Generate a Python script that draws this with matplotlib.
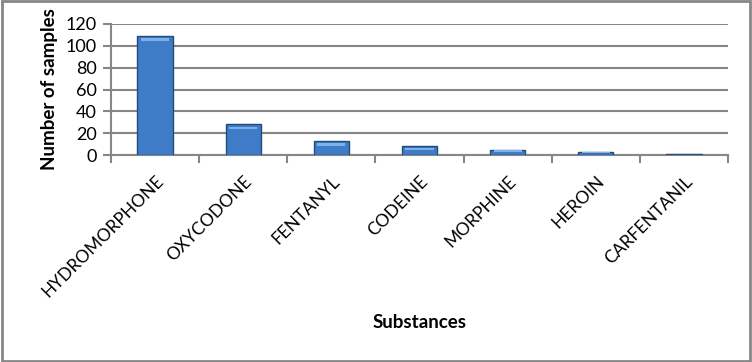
import numpy as np
import matplotlib.pyplot as plt
from matplotlib.patches import Rectangle

substances = ['HYDROMORPHONE', 'OXYCODONE', 'FENTANYL', 'CODEINE',
              'MORPHINE', 'HEROIN', 'CARFENTANIL']
samples = [109, 28, 13, 8, 5, 3, 1]
y_ticks = [0, 20, 40, 60, 80, 100, 120]

plt.rcParams['font.family'] = ['Lato', 'DejaVu Sans']
grey = '#868686'

fig = plt.figure(figsize=(7.52, 3.62), dpi=100)
ax = fig.add_axes([111 / 752, 1 - 155 / 362, (728 - 111) / 752, (155 - 24) / 362])

x = np.arange(len(substances))
ax.bar(x, samples, width=0.4, color='#3F7CC8', edgecolor='#1F4A7A', linewidth=1.0, zorder=3)
# lighter band near top of each bar (rough bevel look)
for xi, v in zip(x, samples):
    band = min(v * 0.35, 4)
    ax.add_patch(Rectangle((xi - 0.16, v - band * 1.1), 0.32, band * 0.6,
                           color='#7FB0EA', lw=0, zorder=4))

ax.set_xlim(-0.5, len(substances) - 0.5)
ax.set_ylim(0, 120)
ax.set_yticks(y_ticks)
ax.set_yticklabels([str(t) for t in y_ticks], fontsize=13)
ax.yaxis.grid(True, color=grey, linewidth=1.5, zorder=0)
ax.set_axisbelow(True)

ax.set_xticks(x)
ax.set_xticklabels(substances, rotation=45, ha='right', rotation_mode='anchor', fontsize=12.5)
ax.tick_params(axis='x', length=0, pad=13)
ax.set_xticks(np.arange(-0.5, len(substances)), minor=True)
ax.tick_params(axis='x', which='minor', length=6, width=1.5, color=grey, direction='out')
ax.tick_params(axis='y', length=6, width=1.5, color=grey, direction='out', pad=4)

for s in ['top', 'right']:
    ax.spines[s].set_visible(False)
for s in ['left', 'bottom']:
    ax.spines[s].set_color(grey)
    ax.spines[s].set_linewidth(1.5)

ax.set_ylabel('Number of samples', fontsize=13.5, fontweight='bold', labelpad=6)
fig.text(420 / 752, 1 - 323 / 362, 'Substances', fontsize=13.5, fontweight='bold',
         ha='center', va='center')

fig.add_artist(Rectangle((0.002, 0.003), 0.995, 0.993, transform=fig.transFigure,
                         fill=False, edgecolor=grey, linewidth=2))

fig.savefig('out.png', dpi=100)
